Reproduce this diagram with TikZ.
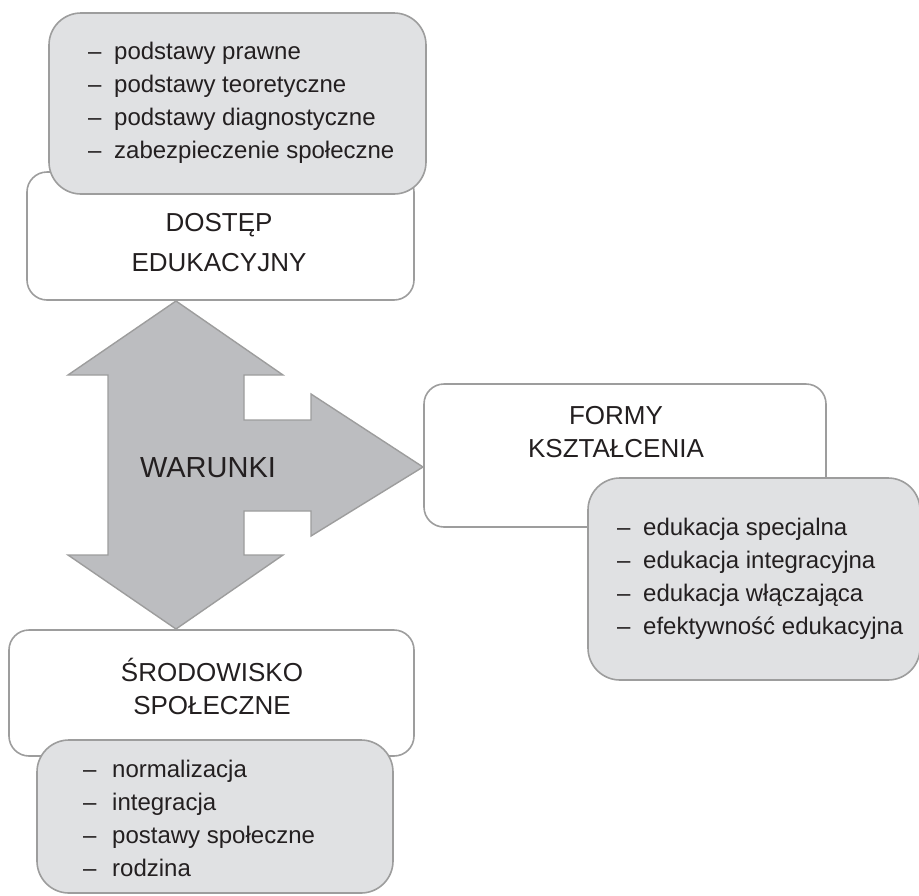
\documentclass[tikz,border=0pt]{standalone}
\usepackage{fontspec}
\setmainfont{Liberation Sans}
\definecolor{ink}{HTML}{231F20}
\definecolor{boxline}{HTML}{9D9D9D}
\definecolor{listfill}{HTML}{E0E1E3}
\definecolor{arrowfill}{HTML}{BCBDC0}
\tikzset{
  whitebox/.style={draw=boxline, line width=1.6pt, fill=white, rounded corners=20pt, inner sep=0pt},
  listbox/.style={draw=boxline, line width=1.6pt, fill=listfill, rounded corners=32pt, inner sep=0pt},
  title/.style={text=ink, font=\fontsize{26}{40}\selectfont, inner sep=0pt, anchor=base},
  listtext/.style={text=ink, font=\fontsize{24}{33}\selectfont, inner sep=0pt, anchor=base west, align=left},
  bigarrow/.style={draw=boxline, line width=1.4pt, fill=arrowfill, line join=miter}
}
\newcommand{\itm}[1]{\makebox[26pt][l]{–}#1}
\begin{document}
\begin{tikzpicture}[x=1pt, y=-1pt]
\useasboundingbox (0,0) rectangle (919,895);

% central three-headed arrow
\draw[bigarrow] (176,301) -- (283,375) -- (244,375) -- (244,420) -- (311,420)
  -- (311,394) -- (423,467) -- (311,536) -- (311,511) -- (244,511) -- (244,555)
  -- (283,555) -- (176,629) -- (68,555) -- (108,555) -- (108,375) -- (68,375) -- cycle;
\node[text=ink, font=\fontsize{29}{35}\selectfont, inner sep=0pt, anchor=base] (warunki) at (208,477) {WARUNKI};

% top: access to education (list anchored at the baseline of its last line)
\node[whitebox, minimum width=387pt, minimum height=128pt] (dostep) at (220.5,236) {};
\node[listbox, minimum width=377pt, minimum height=181pt] (dostepList) at (237.5,103.5) {};
\node[title] (dostepT1) at (219,231) {DOSTĘP};
\node[title] (dostepT2) at (219,271) {EDUKACYJNY};
\node[listtext] (dostepItems) at (88,158) {\itm{podstawy prawne}\\\itm{podstawy teoretyczne}\\\itm{podstawy diagnostyczne}\\\itm{zabezpieczenie społeczne}};

% right: forms of education
\node[whitebox, minimum width=402pt, minimum height=143pt] (formy) at (625,455.5) {};
\node[listbox, minimum width=332pt, minimum height=202pt] (formyList) at (754,579) {};
\node[title] (formyT1) at (616,424) {FORMY};
\node[title] (formyT2) at (616,457) {KSZTAŁCENIA};
\node[listtext] (formyItems) at (617,634) {\itm{edukacja specjalna}\\\itm{edukacja integracyjna}\\\itm{edukacja włączająca}\\\itm{efektywność edukacyjna}};

% bottom: social environment
\node[whitebox, minimum width=405pt, minimum height=126pt] (srodowisko) at (211.5,693) {};
\node[listbox, minimum width=356pt, minimum height=153pt] (srodowiskoList) at (215,816.5) {};
\node[title] (srodowiskoT1) at (212,681) {ŚRODOWISKO};
\node[title] (srodowiskoT2) at (212,714) {SPOŁECZNE};
\node[listtext] (srodowiskoItems) at (83,876) {\makebox[29pt][l]{–}normalizacja\\\makebox[29pt][l]{–}integracja\\\makebox[29pt][l]{–}postawy społeczne\\\makebox[29pt][l]{–}rodzina};
\end{tikzpicture}
\end{document}
